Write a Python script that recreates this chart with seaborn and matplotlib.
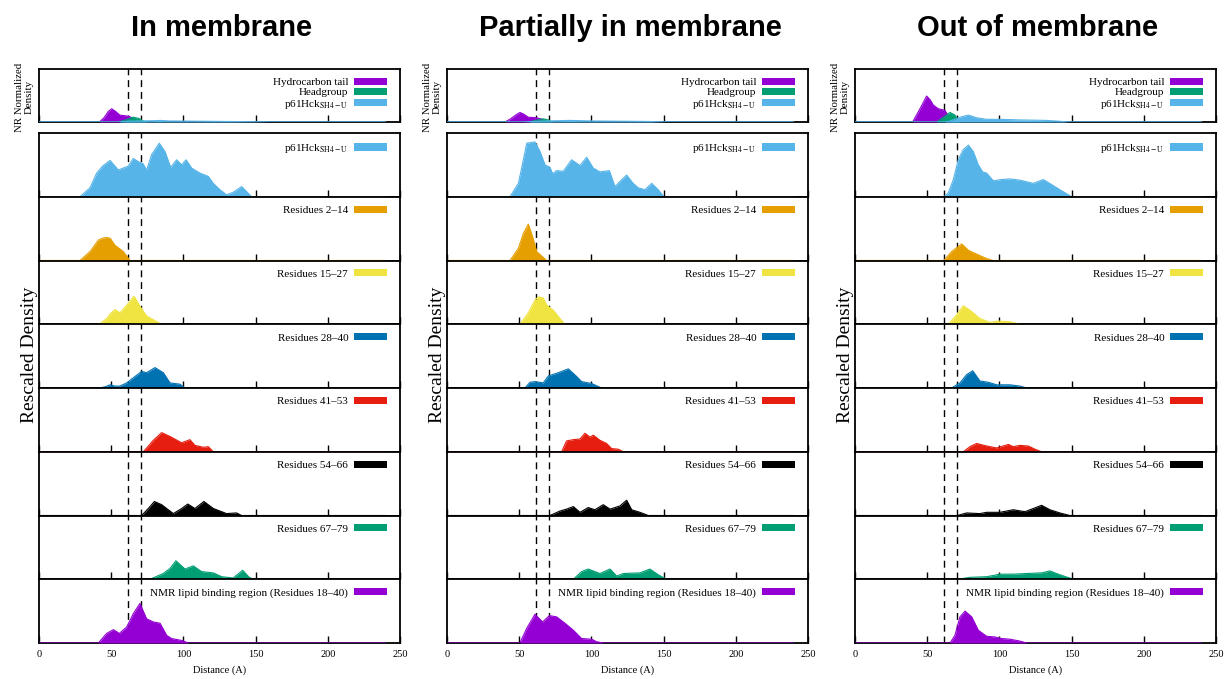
import matplotlib
matplotlib.use("Agg")
import matplotlib.pyplot as plt
from matplotlib.patches import Patch
import pandas as pd
import seaborn as sns

# ---------------------------------------------------------------- data
# Distance (A) / rescaled density pairs for every profile.
DIST_RANGE = (0.0, 240.0)
MEMBRANE_EDGES = [61.4, 70.9]
X_TICKS = [0, 50, 100, 150, 200, 250]

STATES = ["In membrane", "Partially in membrane", "Out of membrane"]

NR_LABELS = ["Hydrocarbon tail", "Headgroup", r"p61Hck$_{\mathrm{SH4-U}}$"]
NR_COLORS = ["#9400D3", "#009E73", "#56B4E9"]

ROW_LABELS = [r"p61Hck$_{\mathrm{SH4-U}}$", "Residues 2–14", "Residues 15–27",
              "Residues 28–40", "Residues 41–53", "Residues 54–66",
              "Residues 67–79", "NMR lipid binding region (Residues 18–40)"]
ROW_COLORS = ["#56B4E9", "#E69F00", "#F0E442", "#0072B2", "#E51E10",
              "#000000", "#009E73", "#9400D3"]

# --- In membrane
in_tail = [(41.8, 0), (45, 0.08), (48, 0.2), (50.3, 0.25), (53, 0.2), (56, 0.13),
           (62, 0.11), (66, 0.06), (70, 0.02), (72, 0)]
in_head = [(55, 0), (60, 0.04), (65, 0.09), (69, 0.07), (72, 0.02), (75, 0)]
in_prot_nr = [(55, 0), (62, 0.015), (70, 0.02), (80, 0.025), (84, 0.03), (90, 0.02),
              (110, 0.015), (130, 0.01), (150, 0.005), (160, 0)]
in_prot = [(28.4, 0), (35.3, 0.14), (39.9, 0.37), (44, 0.48), (49.2, 0.57), (54.9, 0.42),
           (58.4, 0.45), (61.8, 0.48), (65.3, 0.60), (68.8, 0.55), (72, 0.52), (74.5, 0.42),
           (78, 0.66), (83.3, 0.84), (87.2, 0.71), (91.2, 0.46), (95.3, 0.58), (98.8, 0.50),
           (101.8, 0.58), (105.7, 0.45), (111.5, 0.37), (117.2, 0.32), (120.7, 0.21),
           (125.3, 0.11), (129.9, 0.03), (134.5, 0.07), (140.3, 0.16), (143.8, 0.08),
           (147.2, 0)]
in_r2 = [(28.4, 0), (35.3, 0.14), (41.1, 0.32), (44, 0.35), (46.8, 0.36), (49.2, 0.35),
         (52.6, 0.24), (58.4, 0.14), (63, 0)]
in_r15 = [(41.8, 0), (46.8, 0.09), (50, 0.18), (52.6, 0.23), (56.1, 0.18), (60.7, 0.30),
          (65.8, 0.44), (70, 0.28), (74.5, 0.13), (79.2, 0.07), (84.9, 0)]
in_r28 = [(42, 0), (46, 0.02), (49.2, 0.05), (52.6, 0.03), (56.1, 0.03), (60.7, 0.08),
          (65.3, 0.16), (71.1, 0.26), (74.5, 0.24), (80.3, 0.32), (86.1, 0.24), (90.7, 0.08),
          (97.6, 0.06), (101.1, 0)]
in_r41 = [(72.2, 0), (79.2, 0.18), (84.9, 0.30), (90.7, 0.24), (98.8, 0.14), (104.5, 0.19),
          (108, 0.10), (113.8, 0.07), (117.2, 0.08), (120.7, 0)]
in_r54 = [(71.1, 0), (75.7, 0.11), (79.9, 0.22), (84.9, 0.17), (93, 0.03), (98.8, 0.11),
          (103, 0.18), (108, 0.11), (114.2, 0.22), (120.7, 0.11), (129.9, 0.03),
          (136.8, 0.04), (140.3, 0)]
in_r67 = [(76.8, 0), (86.1, 0.09), (90.7, 0.17), (94.8, 0.29), (101.1, 0.16), (106.8, 0.21),
          (112.6, 0.12), (120.7, 0.10), (126.5, 0.04), (134.5, 0.02), (141, 0.14),
          (145.6, 0.03), (148.4, 0)]
in_nmr = [(41.1, 0), (46.8, 0.15), (51.5, 0.21), (55.6, 0.15), (60.7, 0.25), (65.3, 0.46),
          (69.9, 0.62), (74.5, 0.38), (79.2, 0.33), (83.8, 0.31), (88.4, 0.12), (91.8, 0.07),
          (98.8, 0.04), (103.4, 0)]

# --- Partially in membrane
mid_tail = [(40.2, 0), (44, 0.06), (48, 0.14), (50.5, 0.18), (53, 0.15), (56.3, 0.09),
            (62, 0.08), (66, 0.05), (69, 0.01), (71, 0)]
mid_head = [(57, 0), (61, 0.03), (66.7, 0.06), (70, 0.04), (72, 0.01), (74, 0)]
mid_prot_nr = [(52, 0), (60, 0.01), (70, 0.02), (85, 0.03), (100, 0.02), (120, 0.015),
               (140, 0.01), (152, 0)]
mid_prot = [(43.6, 0), (49.4, 0.21), (51.7, 0.45), (55.2, 0.84), (60.9, 0.86), (64.4, 0.71),
            (67.9, 0.50), (71.3, 0.46), (73.2, 0.36), (75.9, 0.41), (80.5, 0.40), (86.3, 0.58),
            (92.1, 0.49), (96.7, 0.62), (101.3, 0.45), (105.9, 0.39), (112.4, 0.41),
            (116.3, 0.16), (119.8, 0.24), (124.4, 0.34), (128.9, 0.21), (132.5, 0.14),
            (137.1, 0.11), (141.7, 0.21), (146.3, 0.11), (150.2, 0)]
mid_r2 = [(43.6, 0), (49.4, 0.19), (52.8, 0.42), (56.3, 0.57), (59.3, 0.37), (62.1, 0.14),
          (69, 0)]
mid_r15 = [(50.5, 0), (56.3, 0.18), (60.9, 0.38), (63.2, 0.43), (66.7, 0.41), (69, 0.30),
           (73.6, 0.22), (78.2, 0.09), (81.7, 0)]
mid_r28 = [(54, 0), (57.5, 0.09), (60.9, 0.10), (66.7, 0.08), (70.2, 0.19), (75.9, 0.23),
           (84, 0.30), (89.8, 0.18), (93.2, 0.10), (100.2, 0.07), (107.1, 0)]
mid_r41 = [(79.4, 0), (82.8, 0.17), (87.5, 0.19), (92.1, 0.20), (95.5, 0.29), (99, 0.23),
           (101.3, 0.26), (105.9, 0.18), (110.5, 0.13), (114, 0.05), (118.6, 0.04),
           (122.1, 0)]
mid_r54 = [(71.3, 0), (78.2, 0.07), (82.8, 0.10), (87.5, 0.14), (92.1, 0.05), (97.8, 0.125),
           (102.4, 0.09), (108.2, 0.17), (112.9, 0.10), (119.8, 0.15), (124.4, 0.24),
           (127.9, 0.09), (133.6, 0.05), (139.4, 0)]
mid_r67 = [(87.5, 0), (93.2, 0.12), (97.8, 0.16), (105.9, 0.09), (112.9, 0.16), (117.5, 0.05),
           (122.1, 0.09), (133.6, 0.10), (140.5, 0.16), (146.3, 0.07), (152.1, 0)]
mid_nmr = [(50.5, 0), (55.2, 0.23), (60.9, 0.45), (66.2, 0.33), (70.9, 0.43), (75.9, 0.41),
           (81.7, 0.31), (87.5, 0.20), (93.2, 0.07), (100.2, 0.06), (103.6, 0.02), (108.2, 0)]

# --- Out of membrane
out_tail = [(39.9, 0), (45, 0.25), (49.6, 0.49), (52, 0.42), (54.2, 0.32), (57.7, 0.25),
            (62.3, 0.22), (65.8, 0.06), (68.1, 0)]
out_head = [(56.5, 0), (61.2, 0.09), (65.8, 0.18), (69.2, 0.13), (71.5, 0.03), (73, 0)]
out_prot_nr = [(62, 0), (66, 0.02), (72.7, 0.09), (78.5, 0.13), (84.2, 0.08), (91.2, 0.05),
               (100.4, 0.05), (114, 0.04), (132.7, 0.03), (148.9, 0)]
out_prot = [(61.6, 0), (64.6, 0.06), (68.1, 0.27), (71.5, 0.58), (75, 0.74), (78.5, 0.81),
            (81.9, 0.71), (85.4, 0.50), (88.4, 0.39), (91.2, 0.37), (95.8, 0.25),
            (101.5, 0.27), (107.3, 0.28), (114.2, 0.26), (123.5, 0.21), (130.4, 0.27),
            (136.2, 0.19), (141.9, 0.11), (150, 0)]
out_r2 = [(61.6, 0), (66.9, 0.14), (73.9, 0.26), (78.5, 0.16), (84.2, 0.10), (91.2, 0.03),
          (95.8, 0)]
out_r15 = [(64.6, 0), (70.4, 0.15), (75, 0.29), (79.6, 0.22), (86.5, 0.09), (93.5, 0.03),
           (99.2, 0.05), (107.3, 0.04), (114.2, 0)]
out_r28 = [(66.9, 0), (72.7, 0.08), (77.3, 0.21), (81.5, 0.27), (86.5, 0.11), (92.3, 0.09),
           (98.1, 0.05), (107.3, 0.05), (114.2, 0.03), (118.9, 0)]
out_r41 = [(75, 0), (79.6, 0.08), (84.2, 0.13), (91.2, 0.09), (98.1, 0.06), (106.2, 0.115),
           (109.6, 0.08), (114.2, 0.10), (120, 0.09), (124.6, 0.04), (129.2, 0)]
out_r54 = [(70.9, 0), (77.3, 0.04), (86.5, 0.03), (91.2, 0.05), (100.4, 0.05), (109.6, 0.09),
           (117.7, 0.06), (123.5, 0.11), (129.2, 0.16), (135, 0.09), (141.9, 0.04),
           (148.8, 0)]
out_r67 = [(71.5, 0), (79.6, 0.03), (91.2, 0.04), (100.4, 0.08), (109.6, 0.08), (118.9, 0.09),
           (129.2, 0.10), (135, 0.13), (141.9, 0.07), (151.2, 0)]
out_nmr = [(65.8, 0), (69.2, 0.12), (72.7, 0.41), (76.2, 0.50), (80.8, 0.41), (85.4, 0.20),
           (91.2, 0.105), (96.9, 0.095), (101.5, 0.07), (107.3, 0.06), (114.2, 0.03),
           (118.9, 0)]

NR_PROFILES = [
    [in_tail, in_head, in_prot_nr],
    [mid_tail, mid_head, mid_prot_nr],
    [out_tail, out_head, out_prot_nr],
]
ROW_PROFILES = [
    [in_prot, in_r2, in_r15, in_r28, in_r41, in_r54, in_r67, in_nmr],
    [mid_prot, mid_r2, mid_r15, mid_r28, mid_r41, mid_r54, mid_r67, mid_nmr],
    [out_prot, out_r2, out_r15, out_r28, out_r41, out_r54, out_r67, out_nmr],
]

# ---------------------------------------------------------------- style
sns.set_theme(style="ticks")
plt.rcParams["font.family"] = ["Liberation Serif", "DejaVu Serif"]
plt.rcParams["mathtext.fontset"] = "stix"
plt.rcParams["axes.edgecolor"] = "black"
plt.rcParams["text.color"] = "black"
plt.rcParams["axes.labelcolor"] = "black"
plt.rcParams["xtick.color"] = "black"
plt.rcParams["xtick.labelcolor"] = "black"

W, H = 1225, 679
fig = plt.figure(figsize=(W / 100, H / 100), dpi=100)


def px_axes(left, top, width, height):
    return fig.add_axes([left / W, 1 - (top + height) / H, width / W, height / H])


def profile_frame(pts):
    xs = [DIST_RANGE[0]] + [p[0] for p in pts] + [DIST_RANGE[1]]
    ys = [0.0] + [p[1] for p in pts] + [0.0]
    return pd.DataFrame({"distance": xs, "density": ys})


def draw_profile(ax, pts, color):
    df = profile_frame(pts)
    sns.lineplot(data=df, x="distance", y="density", ax=ax, color=color,
                 lw=0.8, sort=False, estimator=None, zorder=3)
    ax.fill_between(df["distance"], 0, df["density"], color=color, lw=0, zorder=3)


def style_axes(ax, show_labels):
    ax.set_xlim(0, 250)
    ax.set_ylim(0, 1)
    ax.set_yticks([])
    ax.set_xticks(X_TICKS)
    ax.tick_params(axis="x", direction="in", length=5, width=1, color="black",
                   labelsize=7.5, pad=5, labelbottom=show_labels)
    ax.set_xlabel("Distance (A)" if show_labels else "", fontsize=7.5, labelpad=5)
    ax.set_ylabel("")
    for sp in ax.spines.values():
        sp.set_linewidth(1.3)
        sp.set_color("black")
    for x in MEMBRANE_EDGES:
        ax.axvline(x, color="black", lw=1.0, ls=(0, (5, 3.5)), zorder=1)


def add_legend(ax, labels, colors):
    handles = [Patch(facecolor=c, edgecolor="none") for c in colors]
    ax.legend(handles, labels, loc="upper right", frameon=False, markerfirst=False,
              bbox_to_anchor=(1 - 4 / 361, 1), bbox_transform=ax.transAxes,
              fontsize=8, handlelength=3.0, handleheight=0.6, handletextpad=0.5,
              labelspacing=0.05, borderpad=0.2, borderaxespad=0.6)


col_left = [39, 447, 855]
col_width = 361
nr_top, nr_height = 69, 53
rows_top, rows_bottom = 133, 643
row_h = (rows_bottom - rows_top) / len(ROW_LABELS)

for c, state in enumerate(STATES):
    left = col_left[c]
    center = left + col_width / 2

    fig.text((center + 2.5) / W, 1 - 28 / H, state, family="Liberation Sans",
             fontweight="bold", fontsize=21, ha="center", va="center")
    fig.text((left - 15) / W, 1 - 97 / H, "NR Normalized\nDensity", rotation=90,
             fontsize=7.8, ha="center", va="center", linespacing=1.05)
    fig.text((left - 10) / W, 1 - 355 / H, "Rescaled Density", rotation=90,
             fontsize=14, ha="center", va="center")

    ax = px_axes(left, nr_top, col_width, nr_height)
    for pts, color in zip(NR_PROFILES[c], NR_COLORS):
        draw_profile(ax, pts, color)
    style_axes(ax, False)
    add_legend(ax, NR_LABELS, NR_COLORS)

    for r, (label, color) in enumerate(zip(ROW_LABELS, ROW_COLORS)):
        ax = px_axes(left, rows_top + r * row_h, col_width, row_h)
        draw_profile(ax, ROW_PROFILES[c][r], color)
        style_axes(ax, r == len(ROW_LABELS) - 1)
        add_legend(ax, [label], [color])

fig.savefig("out.png", dpi=100)
